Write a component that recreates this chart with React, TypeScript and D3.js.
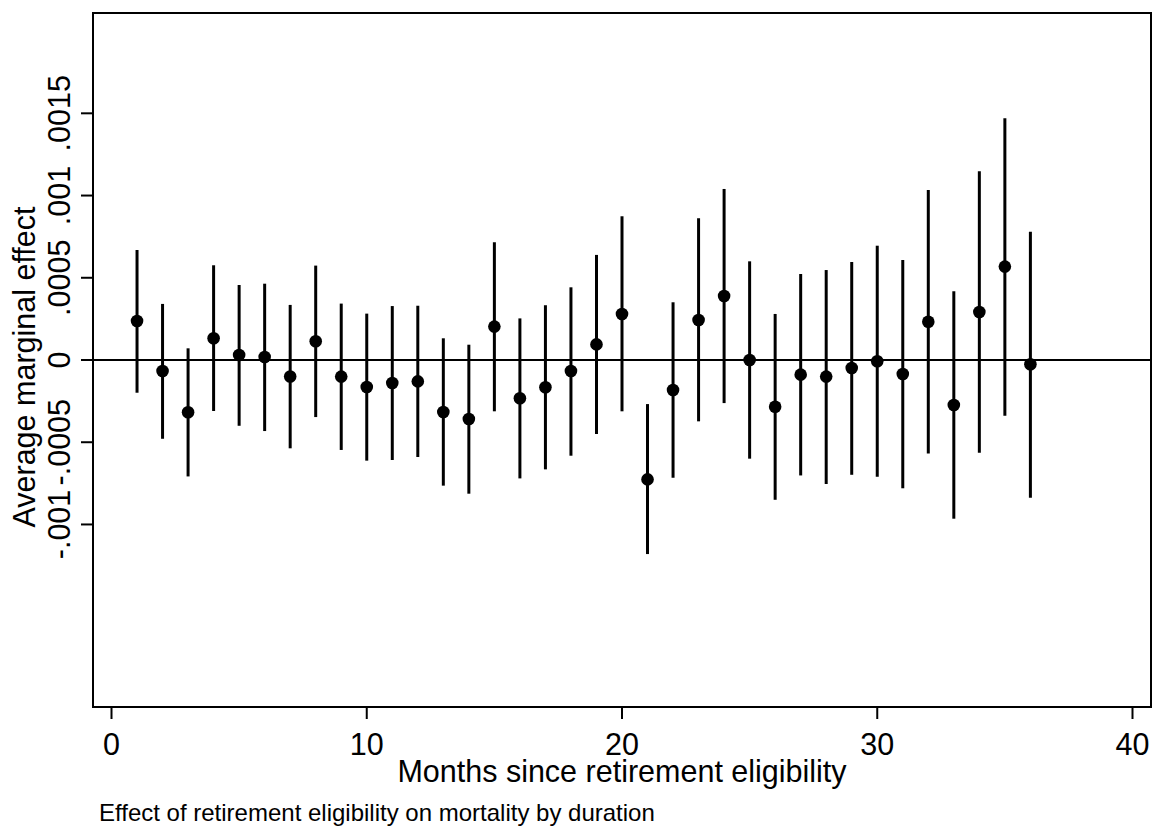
import React from "react";
import * as d3 from "d3";

const months = [1,2,3,4,5,6,7,8,9,10,11,12,13,14,15,16,17,18,19,20,21,22,23,24,25,26,27,28,29,30,31,32,33,34,35,36];
const estimates = [0.000237, -0.000067, -0.000318, 0.000132, 0.00003, 0.000018, -0.0001, 0.000114, -0.000101, -0.000164, -0.00014, -0.00013, -0.000316, -0.000359, 0.000203, -0.000233, -0.000166, -0.000067, 0.000095, 0.00028, -0.000726, -0.000182, 0.000243, 0.000389, 0.0, -0.000284, -0.000089, -0.000101, -0.000049, -0.000008, -0.000085, 0.000233, -0.000274, 0.000292, 0.000568, -0.000026];
const upper = [0.000669, 0.000341, 0.000071, 0.000576, 0.000456, 0.000464, 0.000335, 0.000574, 0.000343, 0.000282, 0.000328, 0.00033, 0.000132, 0.000093, 0.000716, 0.000253, 0.000333, 0.000442, 0.000639, 0.000874, -0.000268, 0.000351, 0.000862, 0.00104, 0.0006, 0.00028, 0.000523, 0.000547, 0.000596, 0.000695, 0.000608, 0.001034, 0.000418, 0.001148, 0.00147, 0.00078];
const lower = [-0.000199, -0.000479, -0.000708, -0.00031, -0.0004, -0.000432, -0.000537, -0.000347, -0.000547, -0.000612, -0.000608, -0.00059, -0.000764, -0.000813, -0.000312, -0.00072, -0.000665, -0.000582, -0.00045, -0.000312, -0.00118, -0.000716, -0.000373, -0.000262, -0.0006, -0.00085, -0.000702, -0.000754, -0.000698, -0.00071, -0.00078, -0.000568, -0.000965, -0.000564, -0.000339, -0.000838];

const xTicks = [0, 10, 20, 30, 40];
const yTicks = [-0.001, -0.0005, 0, 0.0005, 0.001, 0.0015];
const yTickLabels = ["-.001", "-.0005", "0", ".0005", ".001", ".0015"];

const xTitle = "Months since retirement eligibility";
const yTitle = "Average marginal effect";
const caption = "Effect of retirement eligibility on mortality by duration";

const W = 1153;
const H = 827;
const left = 93, right = 1151, top = 13, bottom = 707;
const FONT = "'Liberation Sans', Arial, Helvetica, sans-serif";

export default function App() {
  const x = d3.scaleLinear().domain([-0.725, 40.725]).range([left, right]);
  const y = d3.scaleLinear().domain([-0.00211, 0.00211]).range([bottom, top]);

  return (
    <svg width={W} height={H} style={{ position: "absolute", left: 0, top: 0, background: "#fff" }} fontFamily={FONT}>
      <rect x={0} y={0} width={W} height={H} fill="#fff" />
      {/* zero line */}
      <line x1={left} x2={right} y1={y(0)} y2={y(0)} stroke="#000" strokeWidth={2} />
      {/* error bars */}
      {months.map((m, i) => (
        <line key={"e" + m} x1={x(m)} x2={x(m)} y1={y(upper[i])} y2={y(lower[i])} stroke="#000" strokeWidth={3} />
      ))}
      {months.map((m, i) => (
        <circle key={"p" + m} cx={x(m)} cy={y(estimates[i])} r={6.3} fill="#000" />
      ))}
      {/* frame */}
      <rect x={left} y={top} width={right - left} height={bottom - top} fill="none" stroke="#000" strokeWidth={2} />
      {/* y axis ticks */}
      {yTicks.map((t, i) => (
        <g key={"yt" + i}>
          <line x1={81} x2={left} y1={y(t)} y2={y(t)} stroke="#000" strokeWidth={2} />
          <text transform={`translate(70,${y(t)}) rotate(-90)`} textAnchor="middle" fontSize={30.5} fill="#000">
            {yTickLabels[i]}
          </text>
        </g>
      ))}
      <text transform={`translate(35,${(top + bottom) / 2 + 7}) rotate(-90)`} textAnchor="middle" fontSize={30.5} fill="#000">
        {yTitle}
      </text>
      {/* x axis ticks */}
      {xTicks.map((t) => (
        <g key={"xt" + t}>
          <line x1={x(t)} x2={x(t)} y1={708} y2={719} stroke="#000" strokeWidth={2} />
          <text x={x(t)} y={755} textAnchor="middle" fontSize={30.5} fill="#000">
            {t}
          </text>
        </g>
      ))}
      <text x={x(20)} y={782} textAnchor="middle" fontSize={30.5} fill="#000">
        {xTitle}
      </text>
      <text x={99} y={821} fontSize={24} fill="#000">
        {caption}
      </text>
    </svg>
  );
}
